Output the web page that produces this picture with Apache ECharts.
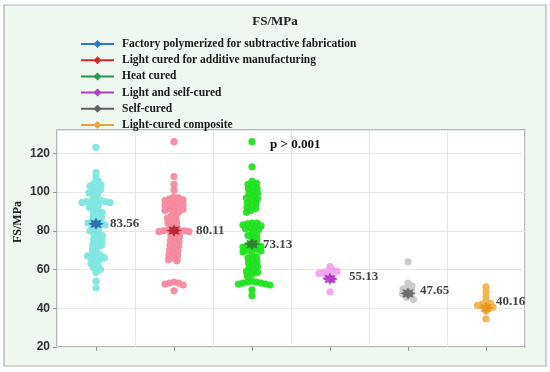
<!DOCTYPE html>
<html><head><meta charset="utf-8">
<script src="https://cdn.jsdelivr.net/npm/echarts@6/dist/echarts.min.js"></script>
<style>html,body{margin:0;padding:0;background:#fff}#c{width:550px;height:372px}</style>
</head><body><div id="c"></div>
<script>
const groupNames = [
  'Factory polymerized for subtractive fabrication',
  'Light cured for additive manufacturing',
  'Heat cured',
  'Light and self-cured',
  'Self-cured',
  'Light-cured composite'
];
const categories = ['G1','G2','G3','G4','G5','G6'];
const yTicks = [20, 40, 60, 80, 100, 120];

const factoryVals = [123, 110, 107.5,
  105.5, 104.5, 103.5, 103, 102, 101, 100, 99.5, 98.5, 97.5,
  95.5, 95.5, 95, 95, 95, 94.5, 94.5,
  93.5, 92.5, 92, 91, 90, 89.5, 88.5, 87.5, 87, 86,
  85, 84.5, 84, 83.5, 83, 82.5,
  81.5, 80.5, 80, 79, 78, 77.5, 76.5, 75.5, 75, 74, 73, 72.5, 71.5, 70.5,
  69, 68, 67.5, 67, 66.5, 66, 65.5, 65, 64,
  63, 62, 61, 60, 58.5, 54, 50.5];
const additiveVals = [126, 108, 104, 101,
  97.5, 97, 96.5, 96, 95.5, 95, 94.5, 94, 93.5, 93, 92.5, 92, 91.5, 91, 90.5, 90, 89.5,
  88, 87, 86.5, 85.5, 84.5, 84, 83, 82,
  80.5, 80.5, 80, 80, 80, 79.5, 79.5,
  78.5, 77.5, 77, 76, 75, 74.5, 73.5, 72.5, 72, 71, 70, 69.5, 68.5, 67.5, 67, 66, 65, 64.5,
  53.5, 53, 53, 52.5, 52, 49];
const heatVals = [126, 113,
  105.5, 104.5, 104, 103, 102, 101.5, 100.5, 99.5, 99, 98, 97, 96.5, 95.5, 94.5, 94, 93, 92, 91.5, 90.5, 89.5,
  84, 84, 83.5, 83, 82.5, 82, 81.5, 81, 80.5,
  79, 78, 77.5, 76.5, 75.5,
  73.5, 73, 72.5, 72, 71.5, 71, 70.5, 70, 69.5, 69,
  67.5, 66.5, 66, 65, 64, 63.5, 62.5, 61.5, 61, 60, 59, 58.5, 57.5, 56.5,
  54, 53.5, 53.5, 53, 53, 52.5, 52.5, 52, 49.5, 46.5];
const lightSelfVals = [61.5, 59.5, 59, 59, 58.5, 58, 57, 56.5, 55, 48.5];
const selfVals = [64, 53, 51.5, 50.5, 50, 49, 48, 47.5, 46.5, 45.5, 44.5];
const compositeVals = [51, 48.5, 46, 43.5, 42.5, 42, 41.5, 41, 40.5, 38.5, 34.5];
const groupValues = [factoryVals, additiveVals, heatVals, lightSelfVals, selfVals, compositeVals];

const means = [83.56, 80.11, 73.13, 55.13, 47.65, 40.16];
const meanLabels = ['83.56', '80.11', '73.13', '55.13', '47.65', '40.16'];

const dotColors = ['#80e6df', '#f6889f', '#1fe31f', '#f3a2ee', '#c9c9c9', '#f4b24c'];
const starColors = ['#1d54a3', '#a8111c', '#2f6a36', '#a21fba', '#555555', '#e58c0c'];
const legendColors = ['#2b7bc2', '#cc2f2b', '#2a9a48', '#b23fc2', '#606060', '#eaa33a'];
const labelDist = [6, 14, 3, 11, 4, 2];
const labelDy = [0, 0, 1, -2, -3, -6];

function starPath(n, ro, ri) {
  let d = '';
  for (let i = 0; i < 2 * n; i++) {
    const r = i % 2 ? ri : ro;
    const a = Math.PI * i / n - Math.PI / 2;
    d += (i ? 'L' : 'M') + (r * Math.cos(a)).toFixed(2) + ',' + (r * Math.sin(a)).toFixed(2);
  }
  return 'path://' + d + 'Z';
}
const STAR = starPath(8, 10, 5.8);
const serif = '"Liberation Serif", "Times New Roman", serif';

const chart = echarts.init(document.getElementById('c'), null, {renderer: 'canvas'});

function buildOption(offsets) {
  const series = [];
  groupNames.forEach((name, i) => {
    series.push({
      name: name, type: 'line', data: [], symbol: 'diamond', symbolSize: 8,
      itemStyle: {color: legendColors[i]}, lineStyle: {color: legendColors[i], width: 1.5}
    });
  });
  groupValues.forEach((vals, i) => {
    series.push({
      type: 'scatter', symbol: 'circle', symbolSize: 7.2, z: 3,
      itemStyle: {color: dotColors[i], opacity: 0.95},
      data: vals.map((v, k) => ({value: [i, v], symbolOffset: [offsets ? offsets[i][k] : 0, 0]})),
      silent: true
    });
  });
  series.push({
    type: 'scatter', symbol: STAR, symbolSize: [16, 12], z: 5,
    data: means.map((m, i) => ({
      value: [i, m],
      itemStyle: {color: starColors[i]},
      label: {show: true, position: 'right', distance: labelDist[i], offset: [0, labelDy[i]],
        formatter: meanLabels[i], fontFamily: serif, fontWeight: 'bold', fontSize: 13, color: '#111'}
    })),
    silent: true
  });
  return {
    backgroundColor: '#ffffff',
    animation: false,
    title: {text: 'FS/MPa', left: 'center', top: 10,
      textStyle: {fontFamily: serif, fontWeight: 'bold', fontSize: 13, color: '#222'}},
    legend: {
      data: groupNames, orient: 'vertical', left: 80, top: 38, padding: 0,
      itemWidth: 33, itemHeight: 10, itemGap: 4.2,
      textStyle: {fontFamily: serif, fontWeight: 'bold', fontSize: 11.5, color: '#1a1a1a', padding: [0, 0, 0, 3]},
      selectedMode: false
    },
    grid: {left: 57, right: 25, top: 130, bottom: 25, show: true, backgroundColor: '#ffffff',
      borderColor: '#a3a3a3', borderWidth: 1.5},
    xAxis: {
      type: 'category', data: categories, boundaryGap: true,
      axisLine: {show: false},
      axisTick: {show: true, alignWithLabel: true, length: 4, lineStyle: {color: '#999'}},
      axisLabel: {show: false},
      splitLine: {show: true, interval: 0, lineStyle: {color: '#e8e8e8'}}
    },
    yAxis: {
      type: 'value', min: yTicks[0], max: 132, interval: 20,
      axisLine: {show: false},
      axisTick: {show: true, length: 4, lineStyle: {color: '#999'}},
      axisLabel: {showMaxLabel: false, margin: 7, fontFamily: '"Liberation Sans", Arial, sans-serif',
        fontWeight: 'bold', fontSize: 12, color: '#333',
        formatter: v => (yTicks.indexOf(v) >= 0 ? String(v) : '')},
      splitLine: {lineStyle: {color: '#e8e8e8'}}
    },
    graphic: [
      {type: 'rect', z: -10, silent: true, shape: {x: 4, y: 5, width: 542, height: 361},
        style: {fill: '#eef7f0', stroke: '#b2b2b2', lineWidth: 1.2}},
      {type: 'text', z: 10, x: 18, y: 222, rotation: Math.PI / 2,
        style: {text: 'FS/MPa', font: 'bold 12px ' + serif, fill: '#222', textAlign: 'center', textVerticalAlign: 'middle'}},
      {type: 'text', z: 10, x: 270, y: 145,
        style: {text: 'p > 0.001', font: 'bold 13px ' + serif, fill: '#111', textAlign: 'left', textVerticalAlign: 'middle'}}
    ],
    series: series
  };
}

chart.setOption(buildOption(null));

function swarm(vals, D, step) {
  const pts = vals.map((v, k) => ({k, y: chart.convertToPixel({yAxisIndex: 0}, v)}));
  const order = pts.slice().sort((a, b) => a.y - b.y);
  const placed = [];
  const off = new Array(vals.length).fill(0);
  let pref = 1;
  order.forEach(p => {
    let x = 0;
    for (let j = 0; j < 400; j++) {
      const c = j === 0 ? 0 : (j % 2 ? pref : -pref) * Math.ceil(j / 2) * step;
      let ok = true;
      for (const q of placed) {
        const dx = c - q.x, dy = p.y - q.y;
        if (dx * dx + dy * dy < D * D) { ok = false; break; }
      }
      if (ok) { x = c; break; }
    }
    if (x !== 0) pref = -pref;
    placed.push({x, y: p.y});
    off[p.k] = x;
  });
  return off;
}

const offsets = groupValues.map(vals => swarm(vals, 4.6, 0.5));
chart.setOption(buildOption(offsets), true);
</script></body></html>
